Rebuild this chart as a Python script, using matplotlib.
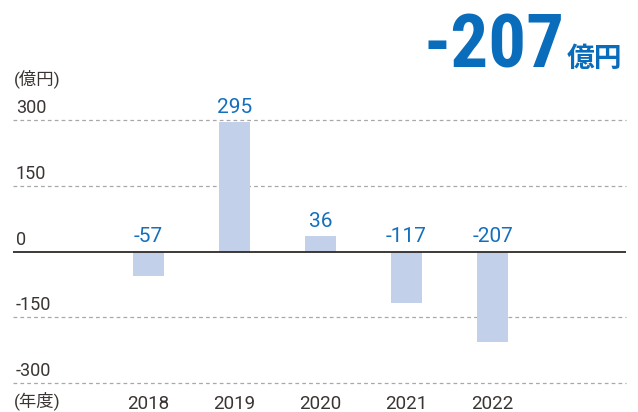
import matplotlib
matplotlib.use("Agg")
import matplotlib.pyplot as plt
import matplotlib.transforms as mtransforms

plt.rcParams['font.family'] = ['Roboto', 'Noto Sans CJK JP', 'DejaVu Sans']

# Data
years = ['2018', '2019', '2020', '2021', '2022']
values = [-57, 295, 36, -117, -207]
y_ticks = [300, 150, 0, -150, -300]
y_tick_labels = ['300', '150', '0', '-150', '-300']
headline = '-207'
headline_unit = '億円'
unit_label = '(億円)'
year_label = '(年度)'

# Colours
bar_color = '#c3d0e9'
label_color = '#1470bd'
head_color = '#0a6dbb'
text_color = '#3a3533'
grid_color = '#a8a8a8'

W, H = 638, 412
fig = plt.figure(figsize=(W / 100, H / 100), dpi=100)
# axes: left px 13 -> right px 626, y: -300 at px 383, 300 at px 120
ax = fig.add_axes([13 / W, (H - 383) / H, 613 / W, 263 / H])
ax.set_ylim(-300, 300)
ax.set_xlim(-1.576, 5.552)

xs = list(range(len(years)))
ax.bar(xs, values, width=0.36, color=bar_color, zorder=2)

# grid / zero line
for t in y_ticks:
    if t == 0:
        ax.axhline(0, color='#2e2a28', lw=1.3, zorder=3)
    else:
        ax.axhline(t, color=grid_color, lw=0.9, ls=(0, (3, 2.5)), zorder=1, clip_on=False)

# value labels
for x, v in zip(xs, values):
    ax.annotate(str(v), (x, max(v, 0)), xytext=(0, 6.5), textcoords='offset points',
                ha='center', va='baseline', fontsize=15, color=label_color, zorder=4)

# y tick labels sitting above gridlines
trans = mtransforms.blended_transform_factory(ax.transAxes, ax.transData)
for t, lab in zip(y_ticks, y_tick_labels):
    ax.annotate(lab, (0, t), xycoords=trans, xytext=(2, 5), textcoords='offset points',
                ha='left', va='baseline', fontsize=13, color=text_color)

# year labels
for x, y in zip(xs, years):
    ax.annotate(y, (x, -300), xytext=(0, -18.7), textcoords='offset points',
                ha='center', va='baseline', fontsize=13.5, color=text_color)

for s in ax.spines.values():
    s.set_visible(False)
ax.set_xticks([])
ax.set_yticks([])

fig.text(14 / W, 1 - 406 / H, year_label, ha='left', va='baseline', fontsize=12.5, color=text_color)
fig.text(14 / W, 1 - 84 / H, unit_label, ha='left', va='baseline', fontsize=12.5, color=text_color)

# headline
fig.text(564 / W, 1 - 67 / H, headline, ha='right', va='baseline', fontsize=54,
         fontweight='bold', color=head_color,
         family=['Roboto Condensed', 'Liberation Sans Narrow', 'Roboto'])
fig.text(567 / W, 1 - 67 / H, headline_unit, ha='left', va='baseline', fontsize=20,
         fontweight='bold', color=head_color, family=['Noto Sans CJK JP'])

fig.savefig('out.png', dpi=100)
